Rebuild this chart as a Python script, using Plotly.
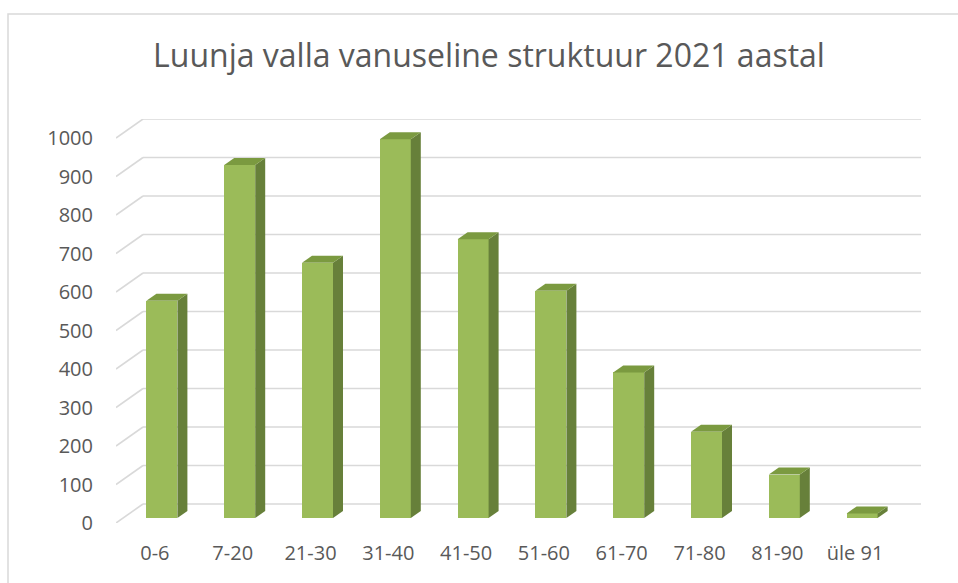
import plotly.graph_objects as go

# ---- data ----
categories = ["0-6", "7-20", "21-30", "31-40", "41-50", "51-60", "61-70", "71-80", "81-90", "üle 91"]
values = [564, 917, 663, 984, 724, 590, 378, 224, 113, 12]
y_ticks = [0, 100, 200, 300, 400, 500, 600, 700, 800, 900, 1000]
title_text = "Luunja valla vanuseline struktuur 2021 aastal"

# ---- geometry (pixel-based styling for the pseudo-3D look) ----
W, H = 958, 583
PLOT_L, PLOT_R = 116, 921
PLOT_T, PLOT_B = 119, 523
CAT_PX = 77.8            # px per category
X_MIN = -0.5
X_MAX = X_MIN + (PLOT_R - PLOT_L) / CAT_PX
BACK_DX, BACK_DY = 27, 19  # back wall offset (px)
VAL_PX = 0.385           # px per value unit
Y_MAX = (PLOT_B - PLOT_T) / VAL_PX
INSET_DX, INSET_DY = 7, 5  # bar position inside depth (px)
BAR_W = 31
DEPTH_DX, DEPTH_DY = 10, 7

bdx = BACK_DX / CAT_PX
bdy = BACK_DY / VAL_PX
idx = INSET_DX / CAT_PX
idy = INSET_DY / VAL_PX
bw = BAR_W / CAT_PX
ddx = DEPTH_DX / CAT_PX
ddy = DEPTH_DY / VAL_PX

FRONT = "#9BBB59"
SIDE = "#67803A"
TOP = "#7B9A40"
GRID = "#D9D9D9"
TEXT = "#595959"

fig = go.Figure()

# front faces
fig.add_trace(go.Bar(
    x=list(range(len(categories))), y=values, base=[idy] * len(values),
    width=bw, offset=-bw / 2 + idx,
    marker=dict(color=FRONT, line=dict(width=0)),
    hoverinfo="skip", showlegend=False,
))

# side and top faces
for i, v in enumerate(values):
    xl = i - bw / 2 + idx
    xr = xl + bw
    b = idy
    t = idy + v
    fig.add_trace(go.Scatter(
        x=[xr, xr + ddx, xr + ddx, xr, xr], y=[b, b + ddy, t + ddy, t, b],
        fill="toself", fillcolor=SIDE, mode="lines", line=dict(width=0, color=SIDE),
        hoverinfo="skip", showlegend=False,
    ))
    fig.add_trace(go.Scatter(
        x=[xl, xr, xr + ddx, xl + ddx, xl], y=[t, t, t + ddy, t + ddy, t],
        fill="toself", fillcolor=TOP, mode="lines", line=dict(width=0, color=TOP),
        hoverinfo="skip", showlegend=False,
    ))

shapes = []
for v in y_ticks:
    # back wall gridline
    shapes.append(dict(type="line", xref="x", yref="y", layer="below",
                       x0=X_MIN + bdx, x1=X_MAX, y0=v + bdy, y1=v + bdy,
                       line=dict(color=GRID, width=1.6)))
    # side wall diagonal
    shapes.append(dict(type="line", xref="x", yref="y", layer="below",
                       x0=X_MIN, x1=X_MIN + bdx, y0=v, y1=v + bdy,
                       line=dict(color=GRID, width=1.6)))

# chart border
pw = PLOT_R - PLOT_L
ph = PLOT_B - PLOT_T
shapes.append(dict(type="rect", xref="paper", yref="paper", layer="below",
                   x0=(8 - PLOT_L) / pw, x1=(W + 10 - PLOT_L) / pw,
                   y0=(PLOT_B - (H + 10)) / ph, y1=(PLOT_B - 14) / ph,
                   line=dict(color=GRID, width=1.5), fillcolor="rgba(0,0,0,0)"))

fig.update_layout(
    width=W, height=H,
    margin=dict(l=PLOT_L, r=W - PLOT_R, t=PLOT_T, b=H - PLOT_B, pad=0),
    paper_bgcolor="white", plot_bgcolor="white",
    font=dict(family="Open Sans", color=TEXT, size=20),
    title=dict(text=title_text, x=489 / W, xanchor="center",
               y=1 - 56 / H, yanchor="middle", xref="container", yref="container",
               font=dict(family="Open Sans", size=32, color=TEXT)),
    shapes=shapes,
    showlegend=False,
    bargap=0,
)
fig.update_xaxes(range=[X_MIN, X_MAX], tickvals=list(range(len(categories))), ticktext=categories,
                 showgrid=False, zeroline=False, showline=False, ticks="",
                 ticklabelstandoff=16, tickfont=dict(size=20, color=TEXT), fixedrange=True)
fig.update_yaxes(range=[0, Y_MAX], tickvals=y_ticks, showgrid=False, zeroline=False,
                 showline=False, ticks="", ticklabelstandoff=22,
                 tickfont=dict(size=20, color=TEXT), fixedrange=True)

fig.write_html("out.html", config={"displayModeBar": False},
               post_script="document.body.style.margin='0';document.body.style.overflow='hidden';")
